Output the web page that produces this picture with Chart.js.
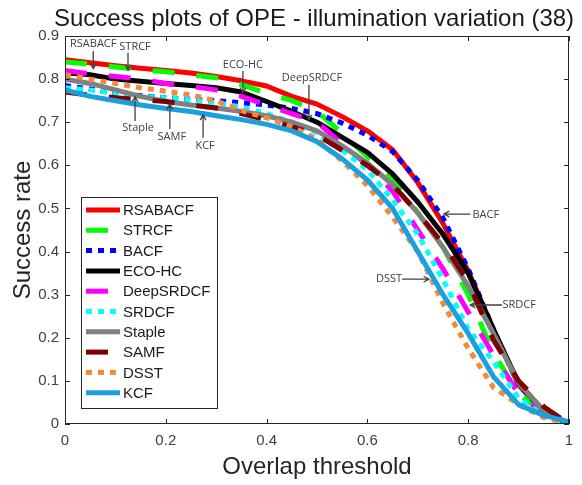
<!DOCTYPE html>
<html>
<head>
<meta charset="utf-8">
<script src="https://cdn.jsdelivr.net/npm/chart.js@4.4.0/dist/chart.umd.min.js"></script>
<style>
  html, body { margin: 0; padding: 0; background: #fff; }
  #wrap { width: 582px; height: 485px; }
</style>
</head>
<body>
<div id="wrap"><canvas id="chart" width="582" height="485"></canvas></div>
<script>
// overlap thresholds (x) and success rate per tracker (y)
const thresholds = [0, 0.05, 0.1, 0.15, 0.2, 0.25, 0.3, 0.35, 0.4, 0.45, 0.5, 0.55, 0.6, 0.65, 0.7, 0.75, 0.8, 0.85, 0.9, 0.95, 1];

const rsabacf   = [0.845, 0.838, 0.831, 0.825, 0.820, 0.814, 0.806, 0.796, 0.784, 0.760, 0.742, 0.713, 0.680, 0.636, 0.560, 0.465, 0.355, 0.220, 0.090, 0.030, 0];
const strcf     = [0.840, 0.835, 0.828, 0.822, 0.817, 0.810, 0.803, 0.787, 0.767, 0.750, 0.725, 0.675, 0.620, 0.570, 0.490, 0.410, 0.300, 0.165, 0.070, 0.025, 0];
const bacf      = [0.785, 0.777, 0.767, 0.762, 0.757, 0.753, 0.750, 0.745, 0.740, 0.732, 0.720, 0.698, 0.670, 0.632, 0.565, 0.478, 0.360, 0.220, 0.090, 0.030, 0];
const ecohc     = [0.815, 0.810, 0.800, 0.795, 0.790, 0.785, 0.780, 0.770, 0.748, 0.725, 0.700, 0.665, 0.630, 0.580, 0.515, 0.440, 0.350, 0.220, 0.095, 0.030, 0];
const deepsrdcf = [0.820, 0.812, 0.806, 0.800, 0.790, 0.783, 0.775, 0.760, 0.740, 0.720, 0.700, 0.650, 0.600, 0.540, 0.450, 0.360, 0.260, 0.160, 0.070, 0.025, 0];
const srdcf     = [0.780, 0.775, 0.767, 0.760, 0.757, 0.752, 0.745, 0.735, 0.720, 0.700, 0.675, 0.635, 0.590, 0.520, 0.440, 0.335, 0.220, 0.145, 0.060, 0.020, 0];
const staple    = [0.800, 0.790, 0.775, 0.760, 0.748, 0.740, 0.733, 0.725, 0.715, 0.700, 0.680, 0.645, 0.605, 0.555, 0.490, 0.410, 0.320, 0.210, 0.095, 0.030, 0];
const samf      = [0.770, 0.763, 0.757, 0.752, 0.748, 0.740, 0.733, 0.720, 0.705, 0.690, 0.670, 0.635, 0.600, 0.555, 0.490, 0.418, 0.330, 0.195, 0.100, 0.040, 0];
const dsst      = [0.810, 0.800, 0.790, 0.780, 0.772, 0.763, 0.750, 0.727, 0.710, 0.690, 0.660, 0.610, 0.553, 0.480, 0.400, 0.280, 0.175, 0.085, 0.045, 0.015, 0];
const kcf       = [0.775, 0.760, 0.750, 0.740, 0.732, 0.725, 0.715, 0.706, 0.695, 0.680, 0.655, 0.615, 0.566, 0.500, 0.400, 0.300, 0.210, 0.110, 0.045, 0.020, 0.005];

const xTicks = [0, 0.2, 0.4, 0.6, 0.8, 1];
const yTicks = [0, 0.1, 0.2, 0.3, 0.4, 0.5, 0.6, 0.7, 0.8, 0.9];

const SOLID = [], DASH = [22, 22], DOT = [6, 6];
const series = [
  { name: 'RSABACF',   values: rsabacf,   color: '#ff0000', dash: SOLID },
  { name: 'STRCF',     values: strcf,     color: '#00ff00', dash: DASH },
  { name: 'BACF',      values: bacf,      color: '#0000ff', dash: DOT },
  { name: 'ECO-HC',    values: ecohc,     color: '#000000', dash: SOLID },
  { name: 'DeepSRDCF', values: deepsrdcf, color: '#ff00ff', dash: DASH },
  { name: 'SRDCF',     values: srdcf,     color: '#00ffff', dash: DOT },
  { name: 'Staple',    values: staple,    color: '#808080', dash: SOLID },
  { name: 'SAMF',      values: samf,      color: '#800000', dash: DASH },
  { name: 'DSST',      values: dsst,      color: '#f5883a', dash: DOT },
  { name: 'KCF',       values: kcf,       color: '#1aa0dc', dash: SOLID }
];

// arrow labels, in data coordinates: text centre, arrow tail -> head
const notes = [
  { text: 'RSABACF',   tx: 0.056, ty: 0.882, x0: 0.056, y0: 0.865, x1: 0.056, y1: 0.824 },
  { text: 'STRCF',     tx: 0.139, ty: 0.875, x0: 0.125, y0: 0.861, x1: 0.125, y1: 0.821 },
  { text: 'ECO-HC',    tx: 0.353, ty: 0.833, x0: 0.353, y0: 0.819, x1: 0.353, y1: 0.768 },
  { text: 'DeepSRDCF', tx: 0.490, ty: 0.803, x0: 0.484, y0: 0.787, x1: 0.484, y1: 0.705 },
  { text: 'Staple',    tx: 0.145, ty: 0.687, x0: 0.139, y0: 0.703, x1: 0.139, y1: 0.759 },
  { text: 'SAMF',      tx: 0.212, ty: 0.666, x0: 0.208, y0: 0.684, x1: 0.208, y1: 0.742 },
  { text: 'KCF',       tx: 0.278, ty: 0.645, x0: 0.274, y0: 0.664, x1: 0.274, y1: 0.717 },
  { text: 'BACF',      tx: 0.835, ty: 0.485, x0: 0.804, y0: 0.487, x1: 0.752, y1: 0.487 },
  { text: 'DSST',      tx: 0.643, ty: 0.336, x0: 0.669, y0: 0.336, x1: 0.722, y1: 0.336 },
  { text: 'SRDCF',     tx: 0.901, ty: 0.276, x0: 0.867, y0: 0.276, x1: 0.804, y1: 0.276 }
];

const AXIS = '#262626';
const FONT = '"Liberation Sans", Arial, sans-serif';

function arrow(ctx, ax, ay, bx, by) {
  const ang = Math.atan2(by - ay, bx - ax), h = 6;
  ctx.beginPath();
  ctx.moveTo(ax, ay); ctx.lineTo(bx, by);
  ctx.moveTo(bx - h * Math.cos(ang - 0.5), by - h * Math.sin(ang - 0.5));
  ctx.lineTo(bx, by);
  ctx.lineTo(bx - h * Math.cos(ang + 0.5), by - h * Math.sin(ang + 0.5));
  ctx.stroke();
}

const matlabLook = {
  id: 'matlabLook',
  afterDatasetsDraw(chart) {
    const ctx = chart.ctx, a = chart.chartArea;
    const xs = chart.scales.x, ys = chart.scales.y;
    ctx.save();
    ctx.setLineDash([]);

    // box and inward ticks
    ctx.strokeStyle = AXIS; ctx.lineWidth = 1;
    ctx.strokeRect(a.left + 0.5, a.top + 0.5, a.right - a.left - 1, a.bottom - a.top - 1);
    ctx.beginPath();
    xTicks.forEach(v => {
      const px = Math.round(xs.getPixelForValue(v)) + 0.5;
      ctx.moveTo(px, a.bottom); ctx.lineTo(px, a.bottom - 5);
      ctx.moveTo(px, a.top); ctx.lineTo(px, a.top + 5);
    });
    yTicks.forEach(v => {
      const py = Math.round(ys.getPixelForValue(v)) + 0.5;
      ctx.moveTo(a.left, py); ctx.lineTo(a.left + 5, py);
      ctx.moveTo(a.right, py); ctx.lineTo(a.right - 5, py);
    });
    ctx.stroke();

    // annotations
    ctx.strokeStyle = '#404040'; ctx.fillStyle = '#404040'; ctx.lineWidth = 1.3;
    ctx.font = '11px "Liberation Sans Narrow", "Open Sans", sans-serif';
    ctx.textAlign = 'center'; ctx.textBaseline = 'middle';
    notes.forEach(n => {
      ctx.fillText(n.text, xs.getPixelForValue(n.tx), ys.getPixelForValue(n.ty));
      arrow(ctx, xs.getPixelForValue(n.x0), ys.getPixelForValue(n.y0),
                 xs.getPixelForValue(n.x1), ys.getPixelForValue(n.y1));
    });

    // legend
    const lx = 81, ly = 197, lw = 136, lh = 211, row = 20.3;
    ctx.fillStyle = '#fff';
    ctx.fillRect(lx, ly, lw, lh);
    ctx.strokeStyle = AXIS; ctx.lineWidth = 1;
    ctx.strokeRect(lx + 0.5, ly + 0.5, lw, lh);
    ctx.font = '15px ' + FONT;
    ctx.textAlign = 'left'; ctx.textBaseline = 'middle';
    series.forEach((s, i) => {
      const y = ly + 13 + i * row;
      ctx.strokeStyle = s.color; ctx.lineWidth = 5; ctx.lineCap = 'butt';
      ctx.setLineDash(s.dash);
      ctx.beginPath(); ctx.moveTo(lx + 5, y); ctx.lineTo(lx + 39, y); ctx.stroke();
      ctx.setLineDash([]);
      ctx.fillStyle = '#1a1a1a';
      ctx.fillText(s.name, lx + 42, y + 1);
    });

    // title and axis titles
    ctx.fillStyle = '#1a1a1a';
    ctx.font = '24px ' + FONT;
    ctx.textAlign = 'center'; ctx.textBaseline = 'alphabetic';
    ctx.fillText('Success plots of OPE - illumination variation (38)', 314, 26);
    ctx.fillStyle = '#262626';
    ctx.fillText('Overlap threshold', (a.left + a.right) / 2, 474);
    ctx.translate(30, (a.top + a.bottom) / 2);
    ctx.rotate(-Math.PI / 2);
    ctx.fillText('Success rate', 0, 0);
    ctx.restore();
  }
};

const datasets = series.map((s, i) => ({
  label: s.name,
  data: thresholds.map((t, k) => ({ x: t, y: s.values[k] })),
  borderColor: s.color,
  borderWidth: 5,
  borderDash: s.dash,
  borderCapStyle: 'butt',
  borderJoinStyle: 'round',
  pointRadius: 0,
  tension: 0,
  fill: false,
  order: series.length - i
}));

const tickFont = { family: FONT, size: 15 };
const fmt = v => String(+v.toFixed(1));

new Chart(document.getElementById('chart').getContext('2d'), {
  type: 'line',
  data: { datasets },
  options: {
    responsive: false,
    animation: false,
    devicePixelRatio: 1,
    layout: { padding: { top: 36, right: 13, left: 0, bottom: 0 } },
    plugins: { legend: { display: false }, tooltip: { enabled: false }, title: { display: false } },
    scales: {
      x: {
        type: 'linear', min: 0, max: 1,
        afterFit: sc => { sc.height = 61; },
        afterBuildTicks: sc => { sc.ticks = xTicks.map(v => ({ value: v })); },
        grid: { display: false, drawTicks: false },
        border: { display: false },
        ticks: { font: tickFont, color: '#404040', padding: 8, maxRotation: 0, callback: fmt }
      },
      y: {
        type: 'linear', min: 0, max: 0.9,
        afterFit: sc => { sc.width = 65; },
        afterBuildTicks: sc => { sc.ticks = yTicks.map(v => ({ value: v })); },
        grid: { display: false, drawTicks: false },
        border: { display: false },
        ticks: { font: tickFont, color: '#404040', padding: 6, callback: fmt }
      }
    }
  },
  plugins: [matlabLook]
});
</script>
</body>
</html>
